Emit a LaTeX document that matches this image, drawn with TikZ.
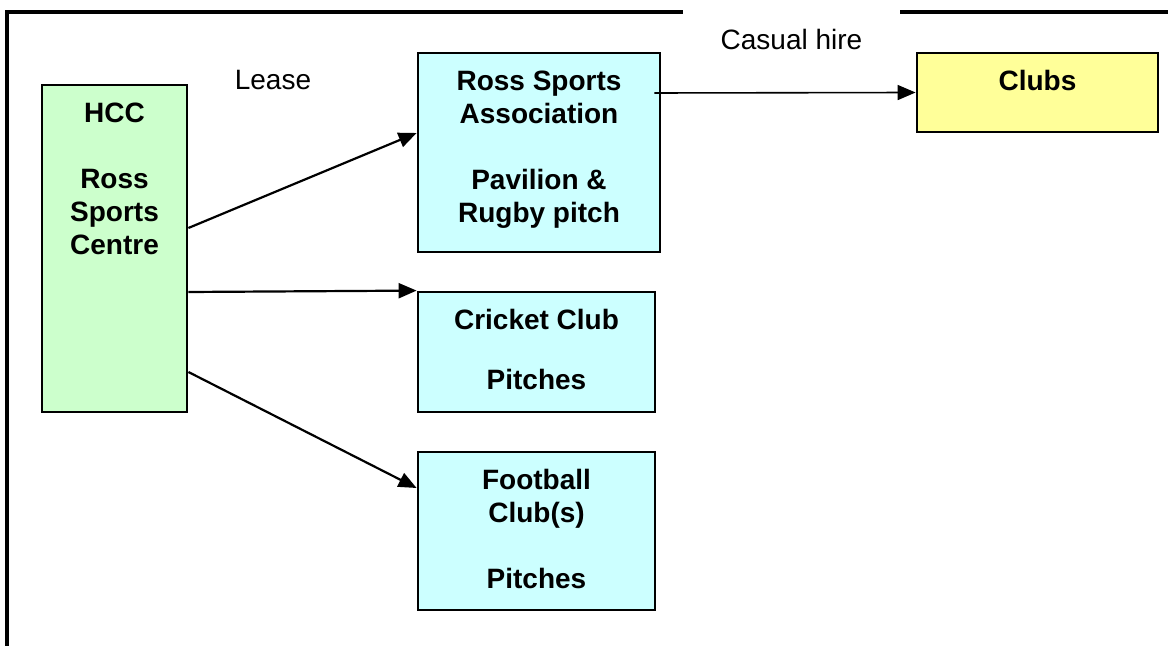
\documentclass[tikz,border=0pt]{standalone}
\usepackage{fontspec}
\setmainfont{Liberation Sans}
\usetikzlibrary{arrows.meta}
\definecolor{hccgreen}{HTML}{CCFFCC}
\definecolor{clubcyan}{HTML}{CCFFFF}
\definecolor{clubyellow}{HTML}{FFFF99}
\tikzset{
  box/.style={draw, line width=1.4pt, inner xsep=0pt, inner ysep=7pt,
    font=\bfseries\fontsize{14}{16.5}\selectfont},
  lbl/.style={font=\fontsize{14}{16.5}\selectfont, inner sep=0pt},
  lease/.style={line width=1.1pt, -{Triangle[length=9pt,width=7.5pt]}},
  hire/.style={line width=0.8pt, -{Triangle[length=9pt,width=7.5pt]}},
}
\newcommand{\boxtext}[3]{\parbox[c][#1][t]{#2}{\centering\strut #3}}
\begin{document}
\begin{tikzpicture}[x=0.5pt,y=-0.5pt]
    \useasboundingbox (0,0) rectangle (1168,646);
    \draw[line width=2.2pt] (7,12) rectangle (1190,670);
    \node[lbl, fill=white, minimum width=108.5pt, text height=21pt, text depth=21pt, anchor=base] (casual) at (791.5,50) {Casual hire};
    \node[lbl, anchor=base] (lease) at (273,90) {Lease};
    \node[box, fill=hccgreen] (hcc) at (114.5,248.5) {\boxtext{149.5pt}{72.5pt}{HCC\\[16.5pt]Ross\\Sports\\Centre}};
    \node[box, fill=clubcyan] (rsa) at (539,152.5) {\boxtext{85.5pt}{121pt}{Ross Sports\\Association\\[16.5pt]Pavilion \&\\Rugby pitch}};
    \node[box, fill=clubcyan] (cricket) at (536.5,352) {\boxtext{46pt}{118.5pt}{Cricket Club\\[13.5pt]Pitches}};
    \node[box, fill=clubcyan] (football) at (536.5,531) {\boxtext{65pt}{118.5pt}{Football\\Club(s)\\[16.5pt]Pitches}};
    \node[box, fill=clubyellow] (clubs) at (1037.5,92.5) {\boxtext{25.5pt}{120.5pt}{Clubs}};
    \draw[lease] ([yshift=10.25pt]hcc.east) -- ([yshift=9.75pt]rsa.west);
    \draw[lease] ([yshift=-21.75pt]hcc.east) -- (cricket.north west);
    \draw[lease] ([yshift=-61.75pt]hcc.east) -- ([yshift=21.5pt]football.west);
    \draw[hire] ([xshift=-3.5pt,yshift=29.75pt]rsa.east) -- (clubs.west);
\end{tikzpicture}
\end{document}
